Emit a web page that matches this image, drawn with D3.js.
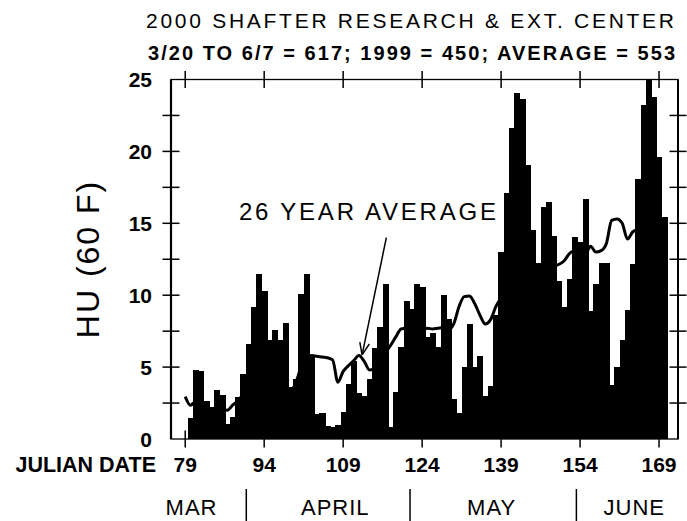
<!DOCTYPE html>
<html>
<head>
<meta charset="utf-8">
<script src="https://cdn.jsdelivr.net/npm/d3@7"></script>
<style>
  body { margin: 0; background: #fff; }
  text { font-family: "Liberation Sans", Arial, Helvetica, sans-serif; fill: #000; }
</style>
</head>
<body>
<div id="chart"></div>
<script>
// daily heat units, julian day 80..170 (2000)
const firstDay = 80;
const hu2000 = [
  1.45, 4.8, 4.7, 2.65, 2.2, 3.4, 3.05, 1.07, 1.54, 2.9,
  4.5, 6.6, 9.2, 11.45, 10.3, 6.9, 7.6, 6.9, 8.05, 3.65,
  4.2, 10.1, 11.45, 5.8, 1.77, 1.84, 0.9, 0.8, 0.98, 1.9,
  3.8, 5.45, 3.17, 3.0, 4.2, 6.3, 7.8, 10.75, 0.86, 3.3,
  6.4, 9.6, 9.05, 10.8, 10.6, 7.1, 7.4, 6.4, 10.0, 8.35,
  2.77, 1.84, 5.0, 8.0, 5.0, 5.8, 3.0, 3.7, 8.6, 13.0,
  17.1, 21.6, 24.05, 23.65, 19.05, 14.5, 12.25, 16.1, 16.5, 14.1,
  11.0, 9.2, 11.1, 14.05, 13.7, 16.7, 8.9, 10.75, 12.25, 12.25,
  3.75, 5.0, 6.85, 8.95, 12.15, 18.05, 23.25, 25.0, 23.8, 19.6,
  15.45
];

// 26 year average, julian day 79..170
const avgFirstDay = 79;
const hu26yr = [
  2.95, 2.35, 2.6, 2.5, 2.3, 2.0, 2.05, 2.1, 2.0, 2.35,
  2.65, 3.1, 3.4, 3.6, 3.8, 3.9, 3.7, 3.6, 3.5, 3.45,
  3.35, 3.9, 5.0, 5.6, 5.8, 5.75, 5.7, 5.65, 5.5, 3.95,
  4.7, 5.1, 5.45, 5.8, 5.4, 4.8, 4.9, 5.5, 6.0, 6.5,
  7.1, 7.65, 7.7, 7.6, 7.6, 7.6, 7.7, 7.65, 7.7, 7.75,
  7.6, 8.0, 9.2, 9.9, 9.95, 9.4, 8.6, 8.0, 8.3, 9.2,
  9.8, 10.2, 10.4, 10.9, 11.0, 11.3, 11.2, 11.5, 11.8, 11.9,
  12.0, 12.15, 12.4, 12.9, 13.1, 13.2, 12.9, 13.4, 13.0, 13.1,
  13.6, 15.2, 15.3, 15.0, 13.9, 14.4, 14.6, 14.9, 15.1, 15.3,
  15.2, 15.0
];

const dayTicks = [79, 94, 109, 124, 139, 154, 169];
const huTicks = [2.5, 5, 7.5, 10, 12.5, 15, 17.5, 20, 22.5];
const huLabels = [0, 5, 10, 15, 20, 25];

const monthNames = ["MAR", "APRIL", "MAY", "JUNE"];
const monthMid = [80.2, 107.5, 137.2, 164.3];
const monthBreaks = [90.6, 121.7, 153.3];

const title1 = "2000 SHAFTER RESEARCH & EXT. CENTER";
const title2 = "3/20 TO  6/7 = 617; 1999 = 450; AVERAGE = 553";
const noteText = "26 YEAR AVERAGE";
const notePos = [89.2, 15.2];
const arrowFrom = [117.2, 14.0];
const arrowTo = [112.6, 5.85];

const W = 687, H = 521;
const svg = d3.select("#chart").append("svg")
  .attr("width", W)
  .attr("height", H);

const x = d3.scaleLinear().domain([76.3, 172.6]).range([171, 678]);
const y = d3.scaleLinear().domain([0, 25]).range([439, 79.5]);
const bw = x(1) - x(0);

const bars = hu2000.map((v, i) => ({ day: firstDay + i, v: v }));
const avg = hu26yr.map((v, i) => ({ day: avgFirstDay + i, v: v }));

//bars - crisp edges so neighbouring days merge into one black mass
svg.append("g")
  .attr("shape-rendering", "crispEdges")
  .selectAll("rect")
  .data(bars)
  .enter()
  .append("rect")
  .attr("x", d => x(d.day) - bw / 2)
  .attr("width", bw + 0.8)
  .attr("y", d => y(d.v))
  .attr("height", d => y(0) - y(d.v))
  .attr("fill", "#000");

//average line
svg.append("path")
  .datum(avg)
  .attr("fill", "none")
  .attr("stroke", "#000")
  .attr("stroke-width", 3)
  .attr("stroke-linejoin", "round")
  .attr("d", d3.line().x(d => x(d.day)).y(d => y(d.v)).curve(d3.curveMonotoneX));

//frame
const x0 = x.range()[0], x1 = x.range()[1], y0 = y.range()[0], y1 = y.range()[1];
svg.append("rect")
  .attr("x", x0).attr("y", y1)
  .attr("width", x1 - x0).attr("height", y0 - y1)
  .attr("fill", "none").attr("stroke", "#000").attr("stroke-width", 1.3);
svg.append("line")
  .attr("x1", x0).attr("x2", x0).attr("y1", y1).attr("y2", y0)
  .attr("stroke", "#000").attr("stroke-width", 2.2);
svg.append("line")
  .attr("x1", x1).attr("x2", x1).attr("y1", y1).attr("y2", y0)
  .attr("stroke", "#000").attr("stroke-width", 2);

//crossing ticks on all four sides
const tk = 8.5;
const tickG = svg.append("g").attr("stroke", "#000").attr("stroke-width", 1.5);
dayTicks.forEach(d => {
  tickG.append("line").attr("x1", x(d)).attr("x2", x(d)).attr("y1", y0 - tk).attr("y2", y0 + tk);
  tickG.append("line").attr("x1", x(d)).attr("x2", x(d)).attr("y1", y1 - tk).attr("y2", y1 + tk);
});
huTicks.forEach(v => {
  tickG.append("line").attr("x1", x0 - tk).attr("x2", x0 + tk).attr("y1", y(v)).attr("y2", y(v));
  tickG.append("line").attr("x1", x1 - tk).attr("x2", x1 + tk).attr("y1", y(v)).attr("y2", y(v));
});

//y labels
svg.append("g").selectAll("text")
  .data(huLabels)
  .enter()
  .append("text")
  .attr("x", x0 - 19)
  .attr("y", d => y(d))
  .attr("dy", "0.36em")
  .attr("text-anchor", "end")
  .attr("font-weight", "bold")
  .attr("font-size", 21)
  .text(d => d);

//x labels
svg.append("g").selectAll("text")
  .data(dayTicks)
  .enter()
  .append("text")
  .attr("x", d => x(d))
  .attr("y", 472)
  .attr("text-anchor", "middle")
  .attr("font-weight", "bold")
  .attr("font-size", 21)
  .text(d => d);

svg.append("text")
  .attr("x", 156)
  .attr("y", 472)
  .attr("text-anchor", "end")
  .attr("font-weight", "bold")
  .attr("font-size", 21.5)
  .text("JULIAN DATE");

//months
svg.append("g").selectAll("text")
  .data(monthNames)
  .enter()
  .append("text")
  .attr("x", (d, i) => x(monthMid[i]))
  .attr("y", 515)
  .attr("text-anchor", "middle")
  .attr("font-size", 22)
  .attr("letter-spacing", 1)
  .text(d => d);

svg.append("g").selectAll("line")
  .data(monthBreaks)
  .enter()
  .append("line")
  .attr("x1", d => x(d)).attr("x2", d => x(d))
  .attr("y1", 489).attr("y2", 521)
  .attr("stroke", "#000").attr("stroke-width", 1.5);

//y axis title
svg.append("text")
  .attr("transform", "translate(99,259) rotate(-90)")
  .attr("text-anchor", "middle")
  .attr("font-size", 32)
  .attr("letter-spacing", 2)
  .text("HU (60 F)");

//titles
svg.append("text")
  .attr("x", 146).attr("y", 28)
  .attr("font-size", 21)
  .attr("textLength", 528)
  .attr("lengthAdjust", "spacing")
  .text(title1);
svg.append("text")
  .attr("x", 148).attr("y", 60)
  .attr("font-size", 20)
  .attr("font-weight", "bold")
  .attr("textLength", 527)
  .attr("lengthAdjust", "spacing")
  .text(title2);

//annotation
svg.append("text")
  .attr("x", x(notePos[0])).attr("y", y(notePos[1]))
  .attr("font-size", 24)
  .attr("textLength", 257)
  .attr("lengthAdjust", "spacing")
  .text(noteText);

const ax0 = x(arrowFrom[0]), ay0 = y(arrowFrom[1]);
const ax1 = x(arrowTo[0]), ay1 = y(arrowTo[1]);
svg.append("line")
  .attr("x1", ax0).attr("y1", ay0).attr("x2", ax1).attr("y2", ay1)
  .attr("stroke", "#000").attr("stroke-width", 1.5);
const ang = Math.atan2(ay0 - ay1, ax0 - ax1);
[-0.38, 0.38].forEach(a => {
  svg.append("line")
    .attr("x1", ax1).attr("y1", ay1)
    .attr("x2", ax1 + 13 * Math.cos(ang + a))
    .attr("y2", ay1 + 13 * Math.sin(ang + a))
    .attr("stroke", "#000").attr("stroke-width", 1.5);
});
</script>
</body>
</html>
